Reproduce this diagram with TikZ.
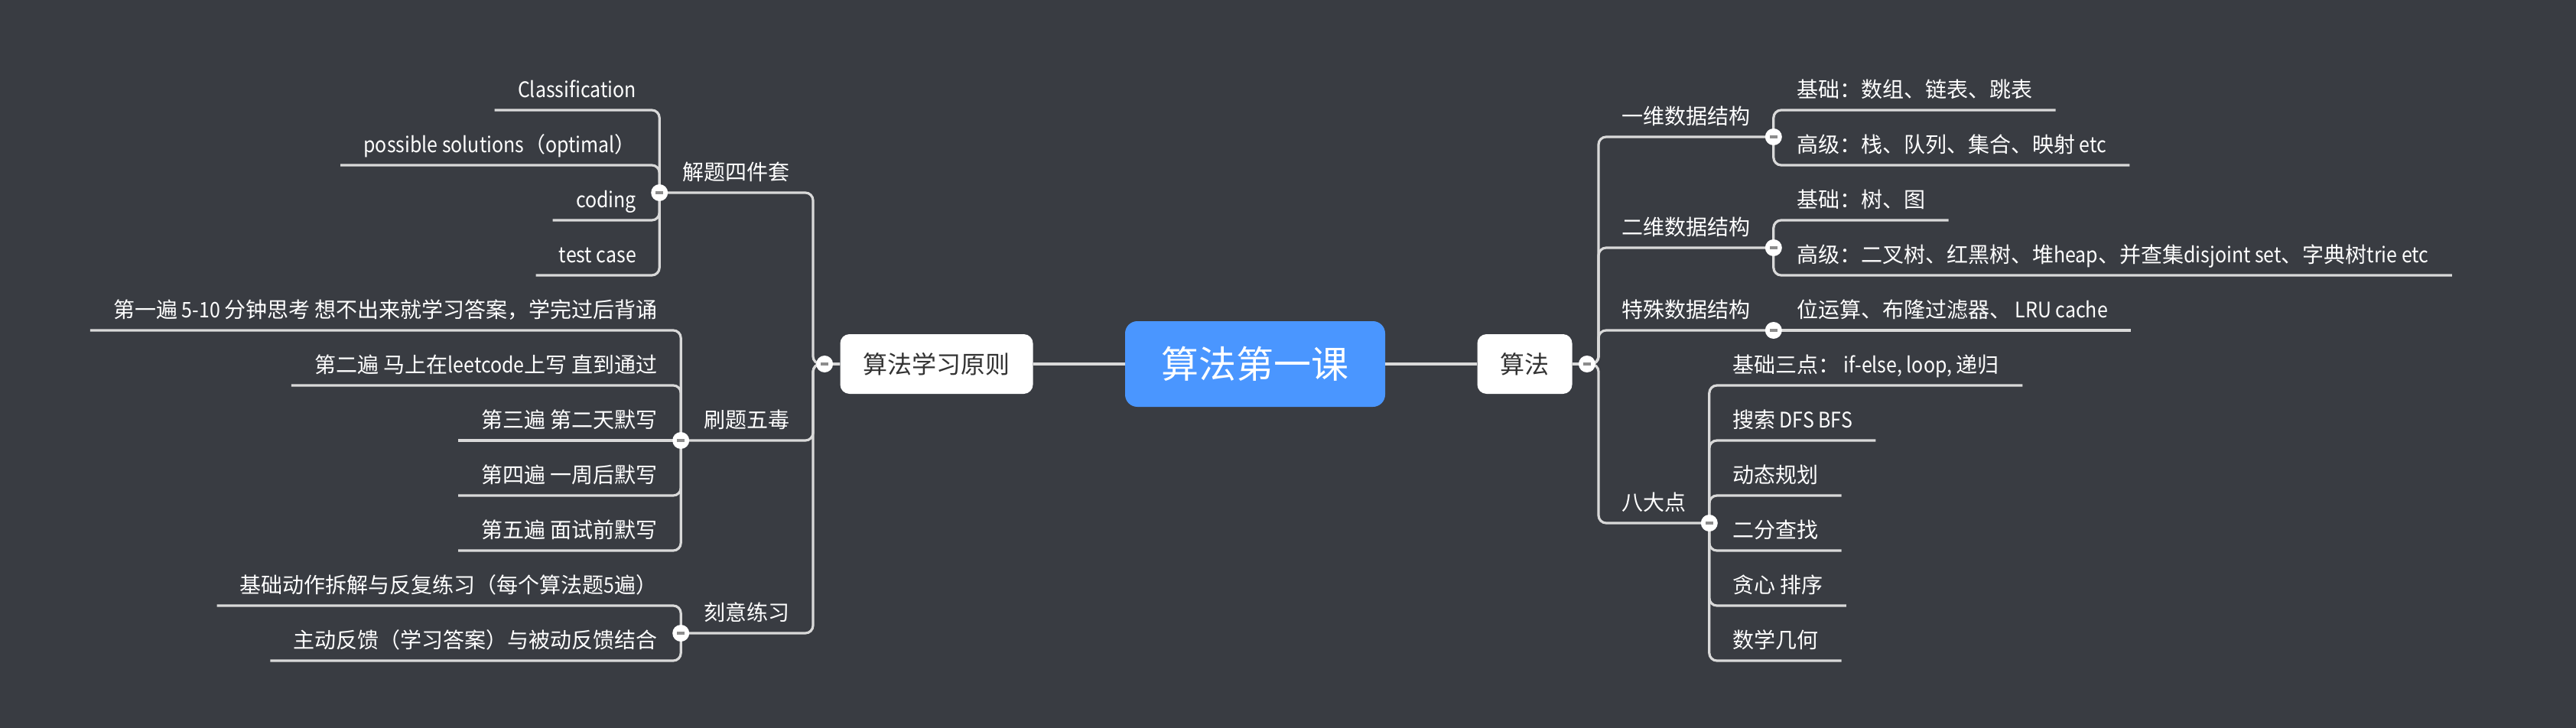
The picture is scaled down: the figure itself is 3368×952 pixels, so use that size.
\documentclass[tikz,border=0pt]{standalone}
\usepackage{fontspec}
\setmainfont{Noto Sans CJK SC}
\newfontfamily\latnfont{Noto Sans CJK SC}[FakeStretch=0.89]
\newcommand\latn[1]{{\latnfont #1}}
\usetikzlibrary{calc}
\definecolor{bg}{HTML}{393C42}
\definecolor{ln}{HTML}{D9D9D9}
\definecolor{blu}{HTML}{4A96FF}
\definecolor{dtext}{HTML}{333333}
\definecolor{mn}{HTML}{8C8C8C}
\begin{document}
\begin{tikzpicture}[x=0.5pt,y=-0.5pt,
  conn/.style={draw=ln, line width=1.6pt, rounded corners=5pt},
  topic/.style={text=white, font=\fontsize{14pt}{16pt}\selectfont, inner xsep=15pt, inner ysep=0pt, text height=12pt, text depth=8.2pt},
  lt/.style={topic, anchor=south east},
  rt/.style={topic, anchor=south west},
  sub/.style={fill=white, text=dtext, rounded corners=6pt, font=\fontsize{16pt}{18pt}\selectfont, inner xsep=15pt, inner ysep=0pt, minimum height=39pt},
  root/.style={fill=blu, text=white, rounded corners=8pt, font=\fontsize{24.5pt}{28pt}\selectfont, minimum width=170pt, minimum height=56pt, inner sep=0pt},
  fold/.style={circle, fill=white, minimum size=11pt, inner sep=0pt, path picture={\fill[mn] ($(path picture bounding box.center)+(-2.6pt,-0.8pt)$) rectangle ($(path picture bounding box.center)+(2.6pt,0.8pt)$);}},
]
\fill[bg] (0,0) rectangle (3368,952);
\useasboundingbox (0,0) rectangle (3368,952);

% central and first-level boxes
\node[root] (root) at (1641,476) {算法第一课};
\node[sub] (yl) at (1224.5,476) {算法学习原则};
\node[sub] (sf) at (1993.5,476) {算法};
\coordinate (ltk) at (1063,476);
\coordinate (rtk) at (2090,476);

% left topics
\node[lt] (jt) at (1063,252) {解题四件套};
\node[lt] (sh) at (1063,576) {刷题五毒};
\node[lt] (ky) at (1063,828) {刻意练习};

\node[lt] (jt1) at (jt.south west |- 0,144) {\latn{Classification}};
\node[lt] (jt2) at (jt.south west |- 0,216) {\latn{possible solutions}（\latn{optimal}）};
\node[lt] (jt3) at (jt.south west |- 0,288) {\latn{coding}};
\node[lt] (jt4) at (jt.south west |- 0,360) {\latn{test case}};

\node[lt] (sh1) at (sh.south west |- 0,432) {第一遍\latn{ 5-10 }分钟思考 想不出来就学习答案，学完过后背诵};
\node[lt] (sh2) at (sh.south west |- 0,504) {第二遍 马上在\latn{leetcode}上写 直到通过};
\node[lt] (sh3) at (sh.south west |- 0,576) {第三遍 第二天默写};
\node[lt] (sh4) at (sh.south west |- 0,648) {第四遍 一周后默写};
\node[lt] (sh5) at (sh.south west |- 0,720) {第五遍 面试前默写};

\node[lt] (ky1) at (ky.south west |- 0,792) {基础动作拆解与反复练习（每个算法题\latn{5}遍）};
\node[lt] (ky2) at (ky.south west |- 0,864) {主动反馈（学习答案）与被动反馈结合};

% right topics
\node[rt] (yw) at (2090,179) {一维数据结构};
\node[rt] (ew) at (2090,324) {二维数据结构};
\node[rt] (ts) at (2090,432) {特殊数据结构};
\node[rt] (bd) at (2090,684) {八大点};

\node[rt] (yw1) at (yw.south east |- 0,144) {基础：数组、链表、跳表};
\node[rt] (yw2) at (yw.south east |- 0,216) {高级：栈、队列、集合、映射\latn{ etc}};
\node[rt] (ew1) at (ew.south east |- 0,288) {基础：树、图};
\node[rt] (ew2) at (ew.south east |- 0,360) {高级：二叉树、红黑树、堆\latn{heap}、并查集\latn{disjoint set}、字典树\latn{trie etc}};
\node[rt] (ts1) at (ts.south east |- 0,432) {位运算、布隆过滤器、\latn{ LRU cache}};

\node[rt] (bd1) at (bd.south east |- 0,504) {基础三点：\latn{ if-else, loop, }递归};
\node[rt] (bd2) at (bd.south east |- 0,576) {搜索\latn{ DFS BFS}};
\node[rt] (bd3) at (bd.south east |- 0,648) {动态规划};
\node[rt] (bd4) at (bd.south east |- 0,720) {二分查找};
\node[rt] (bd5) at (bd.south east |- 0,792) {贪心 排序};
\node[rt] (bd6) at (bd.south east |- 0,864) {数学几何};

% connectors
\draw[conn] (root) -- (yl);
\draw[conn] (root) -- (sf);

\foreach \t in {jt,sh,ky} \draw[conn] (yl) -- (ltk) |- (\t.south west);
\foreach \t in {yw,ew,ts,bd} \draw[conn] (sf) -- (rtk) |- (\t.south east);

\foreach \c in {jt1,jt2,jt3,jt4} \draw[conn] (jt.south west) |- (\c.south west);
\foreach \c in {sh1,sh2,sh4,sh5} \draw[conn] (sh.south west) |- (\c.south west);
\draw[conn] (sh.south west) -- (sh3.south west);
\foreach \c in {ky1,ky2} \draw[conn] (ky.south west) |- (\c.south west);

\foreach \c in {yw1,yw2} \draw[conn] (yw.south east) |- (\c.south east);
\foreach \c in {ew1,ew2} \draw[conn] (ew.south east) |- (\c.south east);
\draw[conn] (ts.south east) -- (ts1.south east);
\foreach \c in {bd1,bd2,bd3,bd4,bd5,bd6} \draw[conn] (bd.south east) |- (\c.south east);

% fold markers
\node[fold] (f0) at ($(yl.west)+(-20,0)$) {};
\node[fold] (f1) at ($(sf.east)+(19,0)$) {};
\node[fold] (fjt) at (jt.south west) {};
\node[fold] (fsh) at (sh.south west) {};
\node[fold] (fky) at (ky.south west) {};
\node[fold] (fyw) at (yw.south east) {};
\node[fold] (few) at (ew.south east) {};
\node[fold] (fts) at (ts.south east) {};
\node[fold] (fbd) at (bd.south east) {};
\end{tikzpicture}
\end{document}
